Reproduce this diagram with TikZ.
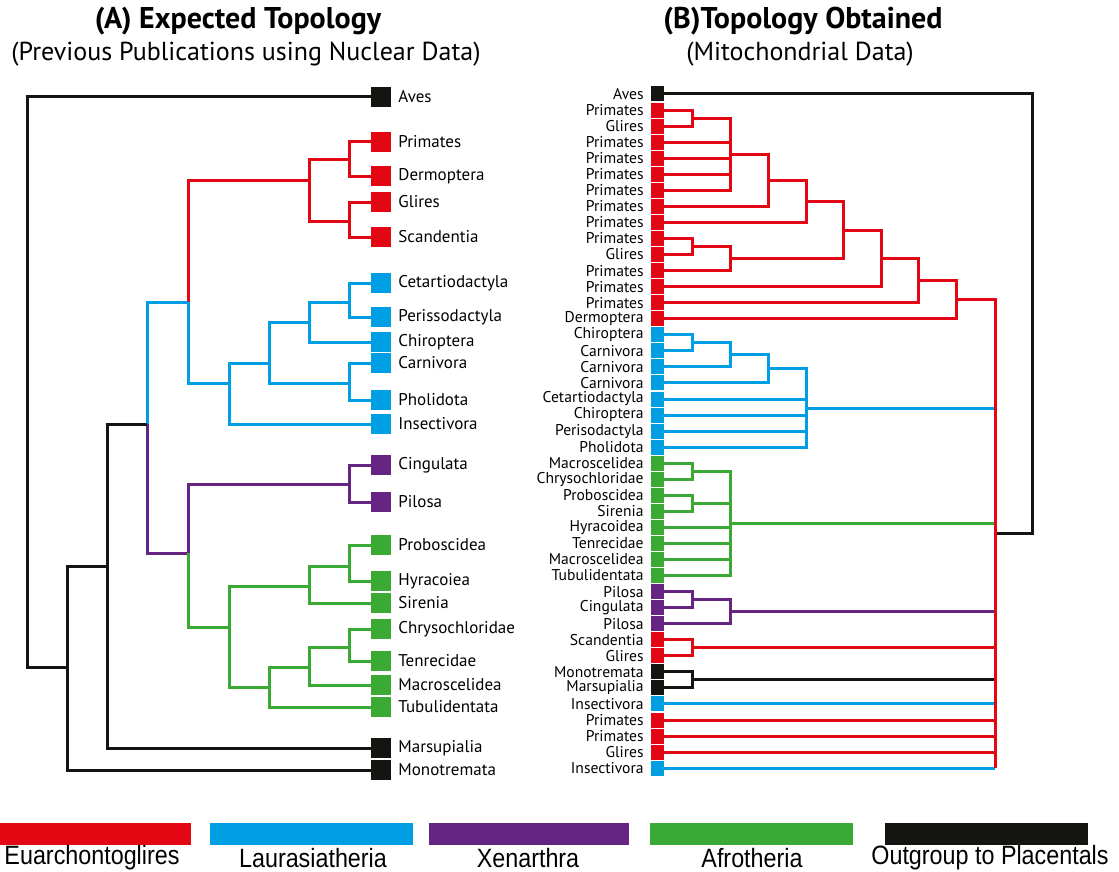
\documentclass[tikz,border=0pt]{standalone}
\usepackage{fontspec}
\setmainfont{PT Sans}
\newfontfamily\keyfont[FakeStretch=0.88]{Liberation Sans}
\usepackage{tikz}

\definecolor{euarch}{RGB}{227,6,19}
\definecolor{laura}{RGB}{0,159,227}
\definecolor{xenar}{RGB}{102,36,131}
\definecolor{afrot}{RGB}{58,170,53}
\definecolor{outgr}{RGB}{20,20,16}

\tikzset{
    leaf/.style={rectangle, inner sep=0pt, minimum size=20pt},
    twig/.style={rectangle, inner sep=0pt, minimum width=13pt, minimum height=15pt},
    taxon/.style={font=\fontsize{17}{17}\selectfont, inner sep=0pt},
    smalltaxon/.style={font=\fontsize{15.6}{15.6}\selectfont, inner sep=0pt},
    branch/.style={line width=3pt, line join=miter},
    keybar/.style={rectangle, inner sep=0pt, minimum width=203pt, minimum height=22pt},
    keytext/.style={font=\keyfont\fontsize{26.5}{26.5}\selectfont, inner sep=0pt},
}

\begin{document}
\begin{tikzpicture}[x=1pt, y=-1pt, label distance=7pt]
        \useasboundingbox (0,0) rectangle (1119,872);

        \node[font=\bfseries\fontsize{30}{30}\selectfont] (titleA) at (238,21) {(A) Expected Topology};
        \node[font=\fontsize{26}{26}\selectfont] (subA) at (246,54) {(Previous Publications using Nuclear Data)};
        \node[font=\bfseries\fontsize{30}{30}\selectfont] (titleB) at (803,21) {(B)Topology Obtained};
        \node[font=\fontsize{26}{26}\selectfont] (subB) at (800,54) {(Mitochondrial Data)};

        % (A) leaves
        \node[leaf, fill=outgr, label={[taxon]right:Aves}] (aves) at (381,97) {};
        \node[leaf, fill=euarch, label={[taxon]right:Primates}] (prim) at (381,142) {};
        \node[leaf, fill=euarch, label={[taxon]right:Dermoptera}] (derm) at (381,176) {};
        \node[leaf, fill=euarch, label={[taxon]right:Glires}] (glir) at (381,202) {};
        \node[leaf, fill=euarch, label={[taxon]right:Scandentia}] (scan) at (381,237) {};
        \node[leaf, fill=laura, label={[taxon]right:Cetartiodactyla}] (ceta) at (381,283) {};
        \node[leaf, fill=laura, label={[taxon]right:Perissodactyla}] (peri) at (381,317) {};
        \node[leaf, fill=laura, label={[taxon]right:Chiroptera}] (chir) at (381,342) {};
        \node[leaf, fill=laura, label={[taxon]right:Carnivora}] (carn) at (381,363) {};
        \node[leaf, fill=laura, label={[taxon]right:Pholidota}] (phol) at (381,400) {};
        \node[leaf, fill=laura, label={[taxon]right:Insectivora}] (inse) at (381,424) {};
        \node[leaf, fill=xenar, label={[taxon]right:Cingulata}] (cing) at (381,465) {};
        \node[leaf, fill=xenar, label={[taxon]right:Pilosa}] (pilo) at (381,502) {};
        \node[leaf, fill=afrot, label={[taxon]right:Proboscidea}] (prob) at (381,545) {};
        \node[leaf, fill=afrot, label={[taxon]right:Hyracoiea}] (hyra) at (381,581) {};
        \node[leaf, fill=afrot, label={[taxon]right:Sirenia}] (sire) at (381,603) {};
        \node[leaf, fill=afrot, label={[taxon]right:Chrysochloridae}] (chry) at (381,629) {};
        \node[leaf, fill=afrot, label={[taxon]right:Tenrecidae}] (tenr) at (381,661) {};
        \node[leaf, fill=afrot, label={[taxon]right:Macroscelidea}] (macr) at (381,685) {};
        \node[leaf, fill=afrot, label={[taxon]right:Tubulidentata}] (tubu) at (381,707) {};
        \node[leaf, fill=outgr, label={[taxon]right:Marsupialia}] (mars) at (381,748) {};
        \node[leaf, fill=outgr, label={[taxon]right:Monotremata}] (mono) at (381,770) {};

        % (A) inner nodes
        \coordinate (pd) at (349,160);
        \coordinate (gs) at (349,221);
        \coordinate (eu) at (309,180);
        \coordinate (cp) at (349,302);
        \coordinate (cc) at (309,322);
        \coordinate (cph) at (349,383);
        \coordinate (sc) at (269,363);
        \coordinate (la) at (229,383);
        \coordinate (bo) at (188,302);
        \coordinate (xa) at (349,484);
        \coordinate (ph) at (349,566);
        \coordinate (phs) at (309,586);
        \coordinate (ct) at (349,647);
        \coordinate (ctm) at (309,667);
        \coordinate (ctmt) at (269,687);
        \coordinate (af) at (229,627);
        \coordinate (at) at (188,553);
        \coordinate (pl) at (147,424);
        \coordinate (th) at (107,566);
        \coordinate (ma) at (67,667);
        \coordinate (root) at (27,400);

        \draw[branch, euarch] (prim) -| (pd) |- (derm);
        \draw[branch, euarch] (glir) -| (gs) |- (scan);
        \draw[branch, euarch] (pd) -| (eu) |- (gs);
        \draw[branch, euarch] (eu) -| (bo);
        \draw[branch, laura] (ceta) -| (cp) |- (peri);
        \draw[branch, laura] (cp) -| (cc) |- (chir);
        \draw[branch, laura] (carn) -| (cph) |- (phol);
        \draw[branch, laura] (cc) -| (sc) |- (cph);
        \draw[branch, laura] (sc) -| (la) |- (inse);
        \draw[branch, laura] (bo) |- (la);
        \draw[branch, laura] (bo) -| (pl);
        \draw[branch, xenar] (cing) -| (xa) |- (pilo);
        \draw[branch, xenar] (xa) -| (at);
        \draw[branch, xenar] (pl) |- (at);
        \draw[branch, afrot] (prob) -| (ph) |- (hyra);
        \draw[branch, afrot] (ph) -| (phs) |- (sire);
        \draw[branch, afrot] (chry) -| (ct) |- (tenr);
        \draw[branch, afrot] (ct) -| (ctm) |- (macr);
        \draw[branch, afrot] (ctm) -| (ctmt) |- (tubu);
        \draw[branch, afrot] (phs) -| (af) |- (ctmt);
        \draw[branch, afrot] (at) |- (af);
        \draw[branch, outgr] (pl) -| (th) |- (mars);
        \draw[branch, outgr] (th) -| (ma) |- (mono);
        \draw[branch, outgr] (aves) -| (root) |- (ma);

        % (B) leaves
        \node[twig, fill=outgr, label={[smalltaxon]left:Aves}] (b1) at (657.5,94.0) {};
        \node[twig, fill=euarch, label={[smalltaxon]left:Primates}] (b2) at (657.5,110.1) {};
        \node[twig, fill=euarch, label={[smalltaxon]left:Glires}] (b3) at (657.5,126.1) {};
        \node[twig, fill=euarch, label={[smalltaxon]left:Primates}] (b4) at (657.5,142.2) {};
        \node[twig, fill=euarch, label={[smalltaxon]left:Primates}] (b5) at (657.5,158.2) {};
        \node[twig, fill=euarch, label={[smalltaxon]left:Primates}] (b6) at (657.5,174.3) {};
        \node[twig, fill=euarch, label={[smalltaxon]left:Primates}] (b7) at (657.5,190.3) {};
        \node[twig, fill=euarch, label={[smalltaxon]left:Primates}] (b8) at (657.5,206.4) {};
        \node[twig, fill=euarch, label={[smalltaxon]left:Primates}] (b9) at (657.5,222.4) {};
        \node[twig, fill=euarch, label={[smalltaxon]left:Primates}] (b10) at (657.5,238.5) {};
        \node[twig, fill=euarch, label={[smalltaxon]left:Glires}] (b11) at (657.5,254.5) {};
        \node[twig, fill=euarch, label={[smalltaxon]left:Primates}] (b12) at (657.5,270.6) {};
        \node[twig, fill=euarch, label={[smalltaxon]left:Primates}] (b13) at (657.5,286.6) {};
        \node[twig, fill=euarch, label={[smalltaxon]left:Primates}] (b14) at (657.5,302.7) {};
        \node[twig, fill=euarch, label={[smalltaxon]left:Dermoptera}] (b15) at (657.5,318.7) {};
        \node[twig, fill=laura, label={[smalltaxon]left:Chiroptera}] (b16) at (657.5,334.8) {};
        \node[twig, fill=laura, label={[smalltaxon]left:Carnivora}] (b17) at (657.5,350.8) {};
        \node[twig, fill=laura, label={[smalltaxon]left:Carnivora}] (b18) at (657.5,366.9) {};
        \node[twig, fill=laura, label={[smalltaxon]left:Carnivora}] (b19) at (657.5,382.9) {};
        \node[twig, fill=laura, label={[smalltaxon]left:Cetartiodactyla}] (b20) at (657.5,399.0) {};
        \node[twig, fill=laura, label={[smalltaxon]left:Chiroptera}] (b21) at (657.5,415.0) {};
        \node[twig, fill=laura, label={[smalltaxon]left:Perisodactyla}] (b22) at (657.5,431.1) {};
        \node[twig, fill=laura, label={[smalltaxon]left:Pholidota}] (b23) at (657.5,447.1) {};
        \node[twig, fill=afrot, label={[smalltaxon]left:Macroscelidea}] (b24) at (657.5,463.2) {};
        \node[twig, fill=afrot, label={[smalltaxon]left:Chrysochloridae}] (b25) at (657.5,479.2) {};
        \node[twig, fill=afrot, label={[smalltaxon]left:Proboscidea}] (b26) at (657.5,495.3) {};
        \node[twig, fill=afrot, label={[smalltaxon]left:Sirenia}] (b27) at (657.5,511.3) {};
        \node[twig, fill=afrot, label={[smalltaxon]left:Hyracoidea}] (b28) at (657.5,527.4) {};
        \node[twig, fill=afrot, label={[smalltaxon]left:Tenrecidae}] (b29) at (657.5,543.4) {};
        \node[twig, fill=afrot, label={[smalltaxon]left:Macroscelidea}] (b30) at (657.5,559.5) {};
        \node[twig, fill=afrot, label={[smalltaxon]left:Tubulidentata}] (b31) at (657.5,575.5) {};
        \node[twig, fill=xenar, label={[smalltaxon]left:Pilosa}] (b32) at (657.5,591.6) {};
        \node[twig, fill=xenar, label={[smalltaxon]left:Cingulata}] (b33) at (657.5,607.6) {};
        \node[twig, fill=xenar, label={[smalltaxon]left:Pilosa}] (b34) at (657.5,623.7) {};
        \node[twig, fill=euarch, label={[smalltaxon]left:Scandentia}] (b35) at (657.5,639.7) {};
        \node[twig, fill=euarch, label={[smalltaxon]left:Glires}] (b36) at (657.5,655.8) {};
        \node[twig, fill=outgr, label={[smalltaxon]left:Monotremata}] (b37) at (657.5,671.8) {};
        \node[twig, fill=outgr, label={[smalltaxon]left:Marsupialia}] (b38) at (657.5,687.9) {};
        \node[twig, fill=laura, label={[smalltaxon]left:Insectivora}] (b39) at (657.5,703.9) {};
        \node[twig, fill=euarch, label={[smalltaxon]left:Primates}] (b40) at (657.5,720.0) {};
        \node[twig, fill=euarch, label={[smalltaxon]left:Primates}] (b41) at (657.5,736.0) {};
        \node[twig, fill=euarch, label={[smalltaxon]left:Glires}] (b42) at (657.5,752.1) {};
        \node[twig, fill=laura, label={[smalltaxon]left:Insectivora}] (b43) at (657.5,768.1) {};

        % (B) inner nodes
        \coordinate (q1) at (692,118.1);
        \coordinate (q2) at (730,154.2);
        \coordinate (q3) at (768,180.3);
        \coordinate (q4) at (806,201.4);
        \coordinate (q5) at (692,246.5);
        \coordinate (q6) at (730,258.6);
        \coordinate (q7) at (843,230.0);
        \coordinate (q8) at (881,258.3);
        \coordinate (q9) at (918,280.5);
        \coordinate (q10) at (956,299.6);
        \coordinate (s1) at (692,342.8);
        \coordinate (s2) at (730,354.9);
        \coordinate (s3) at (768,368.9);
        \coordinate (s4) at (806,408.0);
        \coordinate (s5) at (995,408.0);
        \coordinate (g1) at (692,471.2);
        \coordinate (g2) at (692,503.3);
        \coordinate (g3) at (730,523.4);
        \coordinate (g4) at (995,523.4);
        \coordinate (x1) at (692,599.6);
        \coordinate (x2) at (730,611.7);
        \coordinate (x3) at (995,611.7);
        \coordinate (e1) at (692,647.8);
        \coordinate (e2) at (995,647.8);
        \coordinate (o1) at (692,679.9);
        \coordinate (o2) at (995,679.9);
        \coordinate (rt) at (995,533.0);
        \coordinate (rb) at (995,768.1);
        \coordinate (ob) at (1032,300.0);

        \draw[branch, outgr] (rt) -| (ob) |- (b1);
        \draw[branch, euarch] (b2) -| (q1) |- (b3);
        \draw[branch, euarch] (q1) -| (q2) |- (b7);
        \draw[branch, euarch] (b4) -| (q2);
        \draw[branch, euarch] (b5) -| (q2);
        \draw[branch, euarch] (b6) -| (q2);
        \draw[branch, euarch] (q2) -| (q3) |- (b8);
        \draw[branch, euarch] (q3) -| (q4) |- (b9);
        \draw[branch, euarch] (b10) -| (q5) |- (b11);
        \draw[branch, euarch] (q5) -| (q6) |- (b12);
        \draw[branch, euarch] (q4) -| (q7) |- (q6);
        \draw[branch, euarch] (q7) -| (q8) |- (b13);
        \draw[branch, euarch] (q8) -| (q9) |- (b14);
        \draw[branch, euarch] (q9) -| (q10) |- (b15);
        \draw[branch, laura] (b16) -| (s1) |- (b17);
        \draw[branch, laura] (s1) -| (s2) |- (b18);
        \draw[branch, laura] (s2) -| (s3) |- (b19);
        \draw[branch, laura] (s3) -| (s4) |- (b23);
        \draw[branch, laura] (b20) -| (s4);
        \draw[branch, laura] (b21) -| (s4);
        \draw[branch, laura] (b22) -| (s4);
        \draw[branch, laura] (s4) -- (s5);
        \draw[branch, afrot] (b24) -| (g1) |- (b25);
        \draw[branch, afrot] (b26) -| (g2) |- (b27);
        \draw[branch, afrot] (g1) -| (g3) |- (b31);
        \draw[branch, afrot] (g2) -| (g3);
        \draw[branch, afrot] (b28) -| (g3);
        \draw[branch, afrot] (b29) -| (g3);
        \draw[branch, afrot] (b30) -| (g3);
        \draw[branch, afrot] (g3) -- (g4);
        \draw[branch, xenar] (b32) -| (x1) |- (b33);
        \draw[branch, xenar] (x1) -| (x2) |- (b34);
        \draw[branch, xenar] (x2) -- (x3);
        \draw[branch, euarch] (b35) -| (e1) |- (b36);
        \draw[branch, euarch] (e1) -- (e2);
        \draw[branch, outgr] (b37) -| (o1) |- (b38);
        \draw[branch, outgr] (o1) -- (o2);
        \draw[branch, laura] (b39) -- (b39 -| rb);
        \draw[branch, euarch] (b40) -- (b40 -| rb);
        \draw[branch, euarch] (b41) -- (b41 -| rb);
        \draw[branch, euarch] (b42) -- (b42 -| rb);
        \draw[branch, laura] (b43) -- (rb);
        \draw[branch, euarch] (q10) -| (rb);

        % key
        \node[keybar, fill=euarch, minimum width=191pt] (keyEu) at (95.5,834) {};
        \node[keybar, fill=laura] (keyLa) at (311,834) {};
        \node[keybar, fill=xenar, minimum width=200pt] (keyXe) at (529,834) {};
        \node[keybar, fill=afrot] (keyAf) at (751,834) {};
        \node[keybar, fill=outgr] (keyOu) at (986.5,834) {};
        \node[keytext] (txtEu) at (92,858) {Euarchontoglires};
        \node[keytext] (txtLa) at (313,858) {Laurasiatheria};
        \node[keytext] (txtXe) at (528,858) {Xenarthra};
        \node[keytext] (txtAf) at (752,858) {Afrotheria};
        \node[keytext] (txtOu) at (990,858) {Outgroup to Placentals};
    \end{tikzpicture}
\end{document}
